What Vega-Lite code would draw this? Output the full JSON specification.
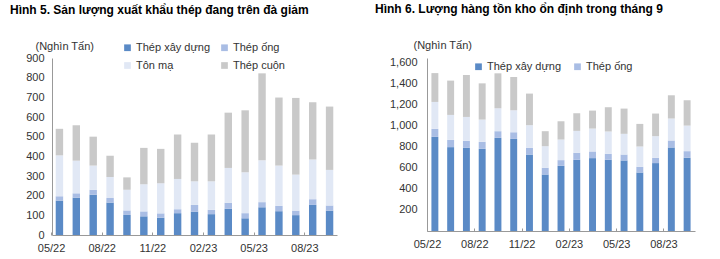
{
"$schema":"https://vega.github.io/schema/vega-lite/v6.json",
"background":"white",
"padding":{"left":10,"top":3,"right":5,"bottom":2},
"spacing":38,
"datasets":{
"L":[
{"m":"05/22","t":"Thép xây dựng","k":1,"v":175},{"m":"05/22","t":"Thép ống","k":2,"v":22},{"m":"05/22","t":"Tôn mạ","k":3,"v":208},{"m":"05/22","t":"Thép cuộn","k":4,"v":135},
{"m":"06/22","t":"Thép xây dựng","k":1,"v":190},{"m":"06/22","t":"Thép ống","k":2,"v":22},{"m":"06/22","t":"Tôn mạ","k":3,"v":166},{"m":"06/22","t":"Thép cuộn","k":4,"v":180},
{"m":"07/22","t":"Thép xây dựng","k":1,"v":205},{"m":"07/22","t":"Thép ống","k":2,"v":25},{"m":"07/22","t":"Tôn mạ","k":3,"v":123},{"m":"07/22","t":"Thép cuộn","k":4,"v":147},
{"m":"08/22","t":"Thép xây dựng","k":1,"v":165},{"m":"08/22","t":"Thép ống","k":2,"v":23},{"m":"08/22","t":"Tôn mạ","k":3,"v":107},{"m":"08/22","t":"Thép cuộn","k":4,"v":108},
{"m":"09/22","t":"Thép xây dựng","k":1,"v":102},{"m":"09/22","t":"Thép ống","k":2,"v":23},{"m":"09/22","t":"Tôn mạ","k":3,"v":105},{"m":"09/22","t":"Thép cuộn","k":4,"v":63},
{"m":"10/22","t":"Thép xây dựng","k":1,"v":95},{"m":"10/22","t":"Thép ống","k":2,"v":25},{"m":"10/22","t":"Tôn mạ","k":3,"v":138},{"m":"10/22","t":"Thép cuộn","k":4,"v":185},
{"m":"11/22","t":"Thép xây dựng","k":1,"v":88},{"m":"11/22","t":"Thép ống","k":2,"v":22},{"m":"11/22","t":"Tôn mạ","k":3,"v":153},{"m":"11/22","t":"Thép cuộn","k":4,"v":175},
{"m":"12/22","t":"Thép xây dựng","k":1,"v":111},{"m":"12/22","t":"Thép ống","k":2,"v":20},{"m":"12/22","t":"Tôn mạ","k":3,"v":154},{"m":"12/22","t":"Thép cuộn","k":4,"v":226},
{"m":"01/23","t":"Thép xây dựng","k":1,"v":119},{"m":"01/23","t":"Thép ống","k":2,"v":34},{"m":"01/23","t":"Tôn mạ","k":3,"v":120},{"m":"01/23","t":"Thép cuộn","k":4,"v":196},
{"m":"02/23","t":"Thép xây dựng","k":1,"v":106},{"m":"02/23","t":"Thép ống","k":2,"v":22},{"m":"02/23","t":"Tôn mạ","k":3,"v":145},{"m":"02/23","t":"Thép cuộn","k":4,"v":238},
{"m":"03/23","t":"Thép xây dựng","k":1,"v":133},{"m":"03/23","t":"Thép ống","k":2,"v":31},{"m":"03/23","t":"Tôn mạ","k":3,"v":177},{"m":"03/23","t":"Thép cuộn","k":4,"v":281},
{"m":"04/23","t":"Thép xây dựng","k":1,"v":85},{"m":"04/23","t":"Thép ống","k":2,"v":26},{"m":"04/23","t":"Tôn mạ","k":3,"v":208},{"m":"04/23","t":"Thép cuộn","k":4,"v":315},
{"m":"05/23","t":"Thép xây dựng","k":1,"v":141},{"m":"05/23","t":"Thép ống","k":2,"v":26},{"m":"05/23","t":"Tôn mạ","k":3,"v":213},{"m":"05/23","t":"Thép cuộn","k":4,"v":442},
{"m":"06/23","t":"Thép xây dựng","k":1,"v":121},{"m":"06/23","t":"Thép ống","k":2,"v":27},{"m":"06/23","t":"Tôn mạ","k":3,"v":205},{"m":"06/23","t":"Thép cuộn","k":4,"v":346},
{"m":"07/23","t":"Thép xây dựng","k":1,"v":101},{"m":"07/23","t":"Thép ống","k":2,"v":23},{"m":"07/23","t":"Tôn mạ","k":3,"v":183},{"m":"07/23","t":"Thép cuộn","k":4,"v":390},
{"m":"08/23","t":"Thép xây dựng","k":1,"v":153},{"m":"08/23","t":"Thép ống","k":2,"v":29},{"m":"08/23","t":"Tôn mạ","k":3,"v":202},{"m":"08/23","t":"Thép cuộn","k":4,"v":291},
{"m":"09/23","t":"Thép xây dựng","k":1,"v":124},{"m":"09/23","t":"Thép ống","k":2,"v":26},{"m":"09/23","t":"Tôn mạ","k":3,"v":181},{"m":"09/23","t":"Thép cuộn","k":4,"v":322}
],
"R":[
{"m":"05/22","t":"Thép xây dựng","k":1,"v":891},{"m":"05/22","t":"Thép ống","k":2,"v":76},{"m":"05/22","t":"Tôn mạ","k":3,"v":255},{"m":"05/22","t":"Thép cuộn","k":4,"v":273},
{"m":"06/22","t":"Thép xây dựng","k":1,"v":794},{"m":"06/22","t":"Thép ống","k":2,"v":69},{"m":"06/22","t":"Tôn mạ","k":3,"v":236},{"m":"06/22","t":"Thép cuộn","k":4,"v":325},
{"m":"07/22","t":"Thép xây dựng","k":1,"v":787},{"m":"07/22","t":"Thép ống","k":2,"v":67},{"m":"07/22","t":"Tôn mạ","k":3,"v":226},{"m":"07/22","t":"Thép cuộn","k":4,"v":397},
{"m":"08/22","t":"Thép xây dựng","k":1,"v":778},{"m":"08/22","t":"Thép ống","k":2,"v":66},{"m":"08/22","t":"Tôn mạ","k":3,"v":211},{"m":"08/22","t":"Thép cuộn","k":4,"v":343},
{"m":"09/22","t":"Thép xây dựng","k":1,"v":882},{"m":"09/22","t":"Thép ống","k":2,"v":63},{"m":"09/22","t":"Tôn mạ","k":3,"v":217},{"m":"09/22","t":"Thép cuộn","k":4,"v":331},
{"m":"10/22","t":"Thép xây dựng","k":1,"v":872},{"m":"10/22","t":"Thép ống","k":2,"v":63},{"m":"10/22","t":"Tôn mạ","k":3,"v":208},{"m":"10/22","t":"Thép cuộn","k":4,"v":315},
{"m":"11/22","t":"Thép xây dựng","k":1,"v":724},{"m":"11/22","t":"Thép ống","k":2,"v":63},{"m":"11/22","t":"Tôn mạ","k":3,"v":215},{"m":"11/22","t":"Thép cuộn","k":4,"v":299},
{"m":"12/22","t":"Thép xây dựng","k":1,"v":535},{"m":"12/22","t":"Thép ống","k":2,"v":63},{"m":"12/22","t":"Tôn mạ","k":3,"v":205},{"m":"12/22","t":"Thép cuộn","k":4,"v":142},
{"m":"01/23","t":"Thép xây dựng","k":1,"v":617},{"m":"01/23","t":"Thép ống","k":2,"v":54},{"m":"01/23","t":"Tôn mạ","k":3,"v":195},{"m":"01/23","t":"Thép cuộn","k":4,"v":173},
{"m":"02/23","t":"Thép xây dựng","k":1,"v":674},{"m":"02/23","t":"Thép ống","k":2,"v":66},{"m":"02/23","t":"Tôn mạ","k":3,"v":208},{"m":"02/23","t":"Thép cuộn","k":4,"v":167},
{"m":"03/23","t":"Thép xây dựng","k":1,"v":690},{"m":"03/23","t":"Thép ống","k":2,"v":63},{"m":"03/23","t":"Tôn mạ","k":3,"v":217},{"m":"03/23","t":"Thép cuộn","k":4,"v":170},
{"m":"04/23","t":"Thép xây dựng","k":1,"v":674},{"m":"04/23","t":"Thép ống","k":2,"v":57},{"m":"04/23","t":"Tôn mạ","k":3,"v":211},{"m":"04/23","t":"Thép cuộn","k":4,"v":230},
{"m":"05/23","t":"Thép xây dựng","k":1,"v":668},{"m":"05/23","t":"Thép ống","k":2,"v":56},{"m":"05/23","t":"Tôn mạ","k":3,"v":196},{"m":"05/23","t":"Thép cuộn","k":4,"v":239},
{"m":"06/23","t":"Thép xây dựng","k":1,"v":554},{"m":"06/23","t":"Thép ống","k":2,"v":54},{"m":"06/23","t":"Tôn mạ","k":3,"v":192},{"m":"06/23","t":"Thép cuộn","k":4,"v":214},
{"m":"07/23","t":"Thép xây dựng","k":1,"v":643},{"m":"07/23","t":"Thép ống","k":2,"v":50},{"m":"07/23","t":"Tôn mạ","k":3,"v":205},{"m":"07/23","t":"Thép cuộn","k":4,"v":214},
{"m":"08/23","t":"Thép xây dựng","k":1,"v":791},{"m":"08/23","t":"Thép ống","k":2,"v":66},{"m":"08/23","t":"Tôn mạ","k":3,"v":208},{"m":"08/23","t":"Thép cuộn","k":4,"v":220},
{"m":"09/23","t":"Thép xây dựng","k":1,"v":693},{"m":"09/23","t":"Thép ống","k":2,"v":63},{"m":"09/23","t":"Tôn mạ","k":3,"v":242},{"m":"09/23","t":"Thép cuộn","k":4,"v":240}
]
},
"hconcat":[
{
"title":{"text":"Hình 5. Sản lượng xuất khẩu thép đang trên đà giảm","anchor":"start","frame":"group","dx":-42,"offset":23,"font":"Liberation Sans","fontSize":12,"fontWeight":"bold","color":"#000"},
"width":285,"height":177,
"data":{"name":"L"},
"mark":{"type":"bar"},
"encoding":{
"x":{"field":"m","type":"ordinal","sort":null,"scale":{"paddingInner":0.56,"paddingOuter":0.22},
"axis":{"title":null,"values":["05/22","08/22","11/22","02/23","05/23","08/23"],"labelAngle":0,"domainColor":"#999","tickColor":"#999","tickSize":-3,"tickOffset":-8.4,"labelPadding":10,"labelFontSize":11,"labelColor":"#333","labelFont":"Liberation Sans"}},
"y":{"field":"v","type":"quantitative","stack":"zero","scale":{"domain":[0,900],"nice":false},
"axis":{"values":[0,100,200,300,400,500,600,700,800,900],"format":".0f","grid":false,"ticks":false,"domainColor":"#999","labelPadding":8,"labelFontSize":11,"labelColor":"#333","labelFont":"Liberation Sans",
"title":"(Nghìn Tấn)","titleAngle":0,"titleAlign":"left","titleBaseline":"middle","titleX":-17,"titleY":-12,"titleFont":"Liberation Sans","titleFontSize":11,"titleFontWeight":"normal","titleColor":"#333"}},
"color":{"field":"t","type":"nominal","scale":{"domain":["Thép xây dựng","Thép ống","Tôn mạ","Thép cuộn"],"range":["#5a8ac6","#a9bde4","#e1e8f5","#c9c9c9"]},
"legend":{"title":null,"orient":"none","legendX":70,"legendY":-16,"columns":2,"direction":"horizontal","symbolType":"square","symbolSize":45,"symbolStrokeWidth":0,"labelFont":"Liberation Sans","labelFontSize":11,"labelColor":"#333","columnPadding":8,"rowPadding":6,"labelOffset":3}},
"order":{"field":"k","type":"quantitative"}
}
},
{
"title":{"text":"Hình 6. Lượng hàng tồn kho ổn định trong tháng 9","anchor":"start","frame":"group","dx":-52,"offset":23,"font":"Liberation Sans","fontSize":12,"fontWeight":"bold","color":"#000"},
"width":268,"height":173,
"data":{"name":"R"},
"mark":{"type":"bar"},
"encoding":{
"x":{"field":"m","type":"ordinal","sort":null,"scale":{"paddingInner":0.56,"paddingOuter":0.28},
"axis":{"title":null,"values":["05/22","08/22","11/22","02/23","05/23","08/23"],"labelAngle":0,"domainColor":"#999","tickColor":"#999","tickSize":-3,"tickOffset":-7.9,"labelPadding":10,"labelFontSize":11,"labelColor":"#333","labelFont":"Liberation Sans"}},
"y":{"field":"v","type":"quantitative","stack":"zero","scale":{"domain":[0,1638],"nice":false},
"axis":{"values":[200,400,600,800,1000,1200,1400,1600],"format":",.0f","grid":false,"ticks":false,"domainColor":"#999","labelPadding":10,"labelFontSize":11,"labelColor":"#333","labelFont":"Liberation Sans",
"title":"(Nghìn Tấn)","titleAngle":0,"titleAlign":"left","titleBaseline":"middle","titleX":-14,"titleY":-13,"titleFont":"Liberation Sans","titleFontSize":11,"titleFontWeight":"normal","titleColor":"#333"}},
"color":{"field":"t","type":"nominal","scale":{"domain":["Thép xây dựng","Thép ống","Tôn mạ","Thép cuộn"],"range":["#5a8ac6","#a9bde4","#e1e8f5","#c9c9c9"]},
"legend":{"title":null,"orient":"none","legendX":46,"legendY":3,"columns":2,"direction":"horizontal","values":["Thép xây dựng","Thép ống"],"symbolType":"square","symbolSize":45,"symbolStrokeWidth":0,"labelFont":"Liberation Sans","labelFontSize":11,"labelColor":"#333","columnPadding":10,"labelOffset":3}},
"order":{"field":"k","type":"quantitative"}
}
}
],
"resolve":{"scale":{"color":"independent"},"legend":{"color":"independent"}},
"config":{"view":{"stroke":null},"font":"Liberation Sans"}
}
